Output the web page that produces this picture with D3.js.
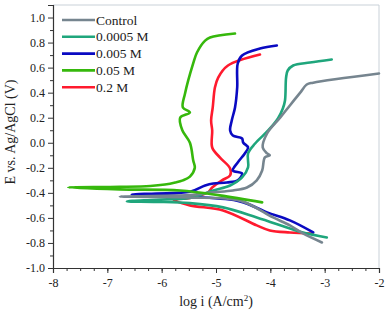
<!DOCTYPE html>
<html>
<head>
<meta charset="utf-8">
<script src="https://cdn.jsdelivr.net/npm/d3@7"></script>
<style>
  body { margin: 0; background: #fff; }
  svg text { font-family: "Liberation Serif", "DejaVu Serif", serif; fill: #222; }
</style>
</head>
<body>
<script>
// Width and height of the svg
var w = 387;
var h = 314;

// Series names and colours
var seriesNames = ["Control", "0.0005 M", "0.005 M", "0.05 M", "0.2 M"];
var seriesColors = ["#76858f", "#1fa67c", "#0a0ac2", "#36b80c", "#ff1a2e"];

// Tick values
var xTicks = [-8, -7, -6, -5, -4, -3, -2];
var yTicks = [-1.0, -0.8, -0.6, -0.4, -0.2, 0.0, 0.2, 0.4, 0.6, 0.8, 1.0];

// Curves: [log i, E], cathodic end -> Ecorr tip -> anodic end
var control = [
  [-3.05, -0.796], [-3.40, -0.724], [-3.64, -0.66], [-3.95, -0.596], [-4.56, -0.462],
  [-5.48, -0.437], [-6.2, -0.432], [-6.77, -0.43], [-6.2, -0.425], [-5.48, -0.418],
  [-5.11, -0.397], [-4.69, -0.381], [-4.43, -0.357], [-4.25, -0.30], [-4.15, -0.221],
  [-4.10, -0.117], [-4.01, -0.101], [-4.06, -0.085], [-4.14, -0.038], [-4.06, 0.074],
  [-3.82, 0.20], [-3.64, 0.298], [-3.45, 0.40], [-3.33, 0.465], [-3.21, 0.48], [-2.0, 0.553]
];
var m0005 = [
  [-2.96, -0.756], [-3.40, -0.716], [-3.64, -0.684], [-4.25, -0.596], [-4.87, -0.516],
  [-5.48, -0.482], [-6.1, -0.472], [-6.64, -0.468], [-6.1, -0.455], [-5.48, -0.44],
  [-5.05, -0.381], [-4.74, -0.341], [-4.52, -0.277], [-4.41, -0.197], [-4.41, -0.085],
  [-4.28, -0.006], [-4.04, 0.098], [-3.86, 0.194], [-3.77, 0.274], [-3.73, 0.338],
  [-3.71, 0.521], [-3.68, 0.577], [-3.58, 0.617], [-3.27, 0.641], [-2.87, 0.665]
];
var m005 = [
  [-3.21, -0.716], [-3.64, -0.62], [-4.06, -0.556], [-4.56, -0.468], [-5.48, -0.432],
  [-6.1, -0.418], [-6.55, -0.413], [-6.1, -0.405], [-5.48, -0.392], [-5.20, -0.341],
  [-5.05, -0.325], [-4.80, -0.317], [-4.60, -0.30], [-4.52, -0.245], [-4.69, -0.221],
  [-4.60, -0.157], [-4.47, -0.085], [-4.41, -0.038], [-4.50, 0.002], [-4.52, 0.034],
  [-4.69, 0.058], [-4.74, 0.098], [-4.71, 0.178], [-4.65, 0.282], [-4.61, 0.441],
  [-4.60, 0.633], [-4.52, 0.697], [-4.19, 0.753], [-3.88, 0.777]
];
var m05 = [
  [-4.15, -0.476], [-4.93, -0.42], [-5.66, -0.381], [-6.77, -0.372], [-7.72, -0.357],
  [-6.77, -0.352], [-6.21, -0.345], [-5.94, -0.333], [-5.75, -0.317], [-5.61, -0.30],
  [-5.48, -0.27], [-5.39, -0.20], [-5.42, -0.14], [-5.48, 0.0], [-5.62, 0.10],
  [-5.66, 0.20], [-5.48, 0.242], [-5.61, 0.282], [-5.57, 0.393], [-5.42, 0.633],
  [-5.35, 0.721], [-5.20, 0.816], [-5.11, 0.84], [-4.65, 0.872]
];
var m2 = [
  [-3.23, -0.724], [-3.64, -0.716], [-4.01, -0.70], [-4.25, -0.66], [-4.87, -0.54],
  [-5.48, -0.50], [-5.78, -0.455], [-5.48, -0.44], [-5.15, -0.397], [-5.07, -0.357],
  [-4.89, -0.30], [-4.74, -0.261], [-4.74, -0.205], [-4.93, -0.117], [-5.07, -0.038],
  [-5.07, 0.098], [-5.09, 0.178], [-5.06, 0.282], [-5.02, 0.441], [-4.96, 0.521],
  [-4.78, 0.617], [-4.19, 0.705]
];
var seriesData = [control, m0005, m005, m05, m2];

// Plot frame
var padL = 53, padR = 379, padT = 5, padB = 268;

var x = d3.scaleLinear().domain([-8, -2]).range([padL, padR]);
var y = d3.scaleLinear().domain([-1.0, 1.1]).range([padB, padT]);

var svg = d3.select("body")
    .append("svg")
    .attr("width", w)
    .attr("height", h);

// light top/right border
svg.append("path")
    .attr("d", "M" + padL + "," + padT + "H" + padR + "V" + padB)
    .attr("fill", "none")
    .attr("stroke", "#c9d1d8")
    .attr("stroke-width", 1);

// Curves
var line = d3.line()
    .x(function(d) { return x(d[0]); })
    .y(function(d) { return y(d[1]); })
    .curve(d3.curveCatmullRom.alpha(0.5));

var drawOrder = [4, 2, 1, 0, 3];
drawOrder.forEach(function(i) {
    svg.append("path")
        .datum(seriesData[i])
        .attr("d", line)
        .attr("fill", "none")
        .attr("stroke", seriesColors[i])
        .attr("stroke-width", 2.6)
        .attr("stroke-linejoin", "round")
        .attr("stroke-linecap", "round");
});

// Axes: major + minor ticks (hyphen minus like the original)
var xAxis = d3.axisBottom(x).tickValues(xTicks).tickSize(5).tickPadding(3)
    .tickFormat(function(d) { return String(d); });
var gx = svg.append("g").attr("transform", "translate(0," + padB + ")").call(xAxis);
var gxm = svg.append("g").attr("transform", "translate(0," + padB + ")")
    .call(d3.axisBottom(x).tickValues(d3.range(-8, -2, 0.25)).tickSize(3).tickFormat(""));
gxm.select(".domain").remove();

var yAxis = d3.axisLeft(y).tickValues(yTicks).tickSize(5).tickPadding(3)
    .tickFormat(function(d) { return d.toFixed(1).replace("\u2212", "-"); });
var gy = svg.append("g").attr("transform", "translate(" + padL + ",0)").call(yAxis);
var gym = svg.append("g").attr("transform", "translate(" + padL + ",0)")
    .call(d3.axisLeft(y).tickValues(d3.range(-0.9, 1.15, 0.2)).tickSize(3).tickFormat(""));
gym.select(".domain").remove();

svg.selectAll(".tick line").attr("stroke", "#333");
[gx, gy].forEach(function(g) {
    g.select(".domain").attr("stroke", "#333").attr("stroke-width", 1.2);
    g.selectAll(".tick text")
        .style("font-family", "Liberation Serif, serif")
        .style("font-size", "12px")
        .attr("fill", "#222");
});
gx.selectAll(".tick text").attr("dy", "0.9em");

// Axis titles
var xt = svg.append("text")
    .attr("x", (padL + padR) / 2)
    .attr("y", 306)
    .attr("text-anchor", "middle")
    .style("font-size", "14px");
xt.append("tspan").text("log i (A/cm");
xt.append("tspan").attr("dy", -5).style("font-size", "9px").text("2");
xt.append("tspan").attr("dy", 5).text(")");

svg.append("text")
    .attr("transform", "translate(15,132) rotate(-90)")
    .attr("text-anchor", "middle")
    .style("font-size", "14px")
    .text("E vs. Ag/AgCl (V)");

// Legend
var legend = svg.append("g");
seriesNames.forEach(function(name, i) {
    var ly = 20 + i * 16.8;
    legend.append("line")
        .attr("x1", 62).attr("x2", 95)
        .attr("y1", ly).attr("y2", ly)
        .attr("stroke", seriesColors[i])
        .attr("stroke-width", 2.6);
    legend.append("text")
        .attr("x", 96)
        .attr("y", ly + 4.5)
        .style("font-size", "13.5px")
        .text(name);
});
</script>
</body>
</html>
